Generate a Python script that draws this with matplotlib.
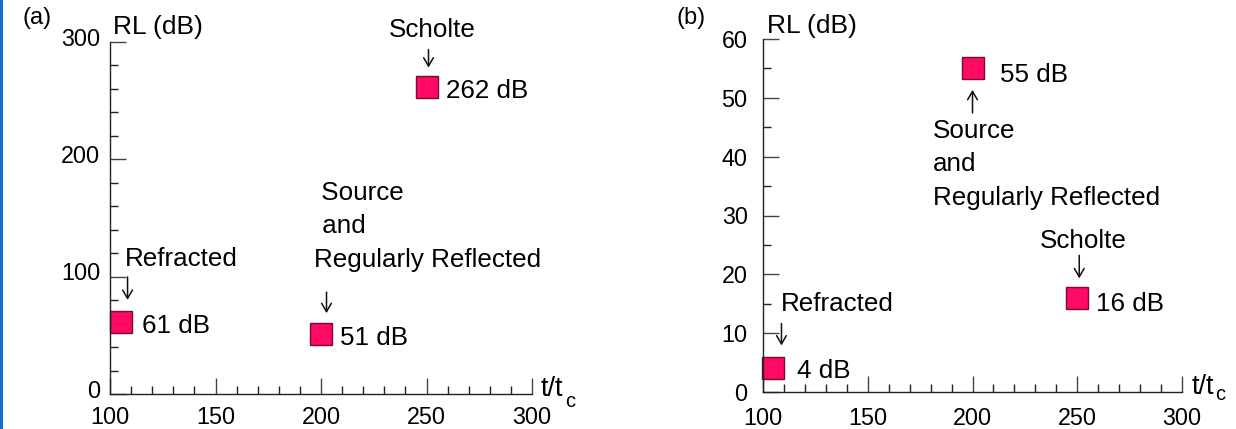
import matplotlib
matplotlib.use("Agg")
import matplotlib.pyplot as plt
from matplotlib.patches import Rectangle
from matplotlib.ticker import MultipleLocator
from matplotlib.transforms import ScaledTranslation

plt.rcParams['font.family'] = ['Liberation Sans', 'DejaVu Sans']

# panel (a): t/tc position, received level
a_t = [105, 200, 250]
a_rl = [61, 51, 262]
a_vals = ['61 dB', '51 dB', '262 dB']

# panel (b)
b_t = [105, 200, 250]
b_rl = [4, 55, 16]
b_vals = ['4 dB', '55 dB', '16 dB']

x_ticks = [100, 150, 200, 250, 300]
a_yticks = [0, 100, 200, 300]
b_yticks = [0, 10, 20, 30, 40, 50, 60]

src_lines = ['Source', 'and', 'Regularly Reflected']

PX = 0.72  # points per pixel at dpi 100
FS = 18.7
fill = '#ff0a64'
edge = '#7a0a30'

fig = plt.figure(figsize=(12.36, 4.29), dpi=100)
fig.patches.append(Rectangle((0, 0), 3 / 1236, 1, transform=fig.transFigure,
                             facecolor='#1170c8', edgecolor='none'))


def setup(ax, ylim, yticks, yminor, ypad, xpad, yshift):
    ax.set_xlim(100, 300)
    ax.set_ylim(*ylim)
    for s in ['top', 'right']:
        ax.spines[s].set_visible(False)
    for s in ['left', 'bottom']:
        ax.spines[s].set_linewidth(1.0)
        ax.spines[s].set_color('#222222')
    ax.set_xticks(x_ticks)
    ax.set_yticks(yticks)
    ax.xaxis.set_minor_locator(MultipleLocator(10))
    ax.yaxis.set_minor_locator(MultipleLocator(yminor))
    ax.tick_params(which='major', direction='in', length=16 * PX, width=1,
                   color='#444444', labelsize=16.8)
    ax.tick_params(which='minor', direction='in', length=8 * PX, width=1,
                   color='#222222')
    ax.tick_params(axis='x', which='major', pad=xpad)
    ax.tick_params(axis='y', which='major', pad=ypad)
    ax.patch.set_visible(False)
    if yshift:
        off = ScaledTranslation(0, yshift / 100, fig.dpi_scale_trans)
        for t in ax.yaxis.get_major_ticks():
            t.label1.set_transform(t.label1.get_transform() + off)


def note(ax, xs, ys, i, s, dx, dy, size=FS, ha='left'):
    ax.annotate(s, (xs[i], ys[i]), xytext=(dx * PX, dy * PX),
                textcoords='offset points', ha=ha, va='baseline',
                fontsize=size, annotation_clip=False)


def arrow(ax, xs, ys, i, dx, tip, tail):
    # tip / tail: vertical pixel offsets from the marker centre (up positive)
    tr = ax.transData + ScaledTranslation(dx / 100, tip / 100, fig.dpi_scale_trans)
    ax.annotate('', (xs[i], ys[i]), xycoords=tr,
                xytext=(0, (tail - tip) * PX), textcoords='offset points',
                annotation_clip=False,
                arrowprops=dict(arrowstyle='->,head_length=0.6,head_width=0.35',
                                lw=1.1, color='#111111', shrinkA=0, shrinkB=0,
                                mutation_scale=10))


def axis_name(ax, dx, dy, cdx, cdy):
    ax.annotate('t/t', (1, 0), xycoords='axes fraction', xytext=(dx * PX, dy * PX),
                textcoords='offset points', ha='left', va='baseline', fontsize=19.5,
                annotation_clip=False)
    ax.annotate('c', (1, 0), xycoords='axes fraction', xytext=(cdx * PX, cdy * PX),
                textcoords='offset points', ha='left', va='baseline', fontsize=14.5,
                annotation_clip=False)


# ---- panel (a)
ax1 = fig.add_axes([110 / 1236, 35 / 429, 422 / 1236, 352 / 429])
setup(ax1, (0, 300), a_yticks, 20, 7, 8.5, 5.5)
ax1.plot(a_t, a_rl, 's', ms=15.5, mfc=fill, mec=edge, mew=1, clip_on=False)

note(ax1, a_t, a_rl, 0, a_vals[0], 21, -10.5)
arrow(ax1, a_t, a_rl, 0, 7, 22.5, 45.5)
note(ax1, a_t, a_rl, 0, 'Refracted', 4, 56.5)

note(ax1, a_t, a_rl, 1, a_vals[1], 18.5, -11)
arrow(ax1, a_t, a_rl, 1, 5.5, 21, 42)
note(ax1, a_t, a_rl, 1, src_lines[2], -6.5, 67)
note(ax1, a_t, a_rl, 1, ' ' + src_lines[1], -6, 101)
note(ax1, a_t, a_rl, 1, ' ' + src_lines[0], -7, 134)

note(ax1, a_t, a_rl, 2, a_vals[2], 20, -11)
arrow(ax1, a_t, a_rl, 2, 2, 19, 37)
note(ax1, a_t, a_rl, 2, 'Scholte', 6, 50, ha='center')

axis_name(ax1, 9, -2, 33, -13)
fig.text(113 / 1236, 1 - 34 / 429, 'RL (dB)', fontsize=19, va='baseline')
fig.text(22 / 1236, 1 - 24 / 429, '(a)', fontsize=17, va='baseline')

# ---- panel (b)
ax2 = fig.add_axes([763 / 1236, 37 / 429, 419 / 1236, 353 / 429])
setup(ax2, (0, 60), b_yticks, 5, 11, 10.5, 0)
ax2.plot(b_t, b_rl, 's', ms=15.5, mfc=fill, mec=edge, mew=1, clip_on=False)

note(ax2, b_t, b_rl, 0, b_vals[0], 24, -10)
arrow(ax2, b_t, b_rl, 0, 8, 23, 45)
note(ax2, b_t, b_rl, 0, 'Refracted', 7, 57)

note(ax2, b_t, b_rl, 1, b_vals[1], 27.5, -13.5)
arrow(ax2, b_t, b_rl, 1, 0, -21.5, -44.5)
note(ax2, b_t, b_rl, 1, src_lines[0], -39.5, -69.5)
note(ax2, b_t, b_rl, 1, src_lines[1], -39.5, -102.5)
note(ax2, b_t, b_rl, 1, src_lines[2], -39.5, -136.5)

note(ax2, b_t, b_rl, 2, b_vals[2], 19, -13.5)
arrow(ax2, b_t, b_rl, 2, 2, 19.5, 42.5)
note(ax2, b_t, b_rl, 2, 'Scholte', 6, 50, ha='center')

axis_name(ax2, 10, -2, 33, -8)
fig.text(767 / 1236, 1 - 33 / 429, 'RL (dB)', fontsize=19, va='baseline')
fig.text(677 / 1236, 1 - 24 / 429, '(b)', fontsize=17, va='baseline')

fig.savefig('out.png', dpi=100)
